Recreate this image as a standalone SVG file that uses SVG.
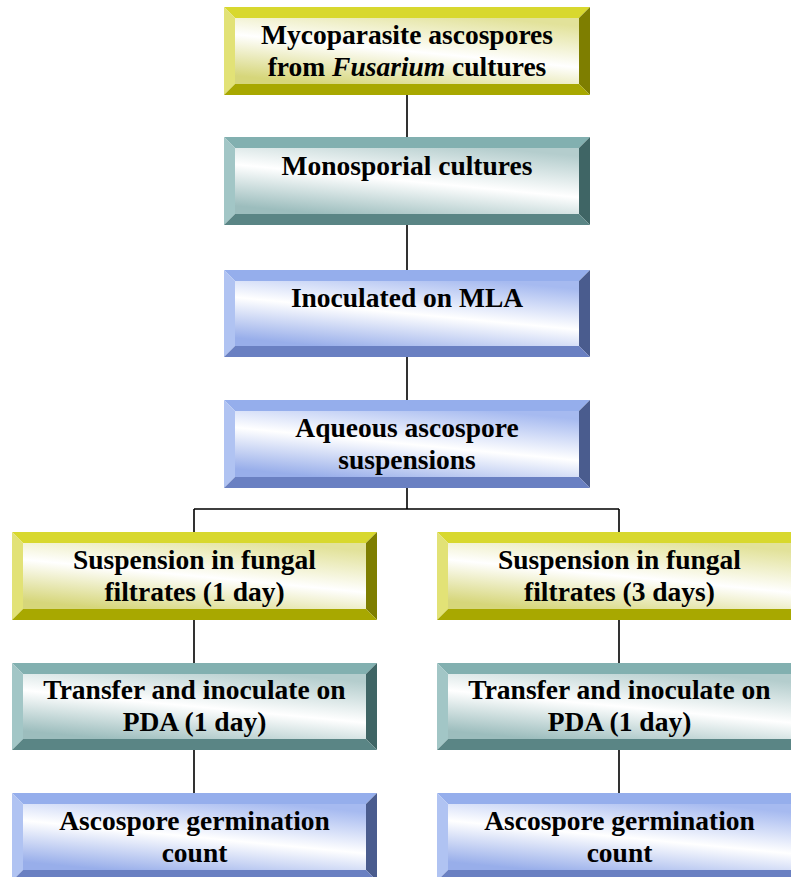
<svg xmlns="http://www.w3.org/2000/svg" width="791" height="877" viewBox="0 0 791 877">
<defs>
<linearGradient id="gY" x1="0.25" y1="1" x2="0.75" y2="0">
<stop offset="0" stop-color="#D6D67A"/><stop offset="0.5" stop-color="#FFFFFF"/><stop offset="1" stop-color="#E2E29A"/>
</linearGradient>
<linearGradient id="gT" x1="0.25" y1="1" x2="0.75" y2="0">
<stop offset="0" stop-color="#9CBDBD"/><stop offset="0.5" stop-color="#FFFFFF"/><stop offset="1" stop-color="#B4CDCD"/>
</linearGradient>
<linearGradient id="gB" x1="0.25" y1="1" x2="0.75" y2="0">
<stop offset="0" stop-color="#98AEEA"/><stop offset="0.5" stop-color="#FFFFFF"/><stop offset="1" stop-color="#A6BAF0"/>
</linearGradient>
</defs>
<style>
.y .t{fill:#D8D82E}.y .l{fill:#E2E276}.y .r{fill:#7E7E00}.y .b{fill:#A8A800}.y .f{fill:url(#gY)}
.te .t{fill:#82B0B0}.te .l{fill:#A2C6C6}.te .r{fill:#3F6565}.te .b{fill:#5A8585}.te .f{fill:url(#gT)}
.bl .t{fill:#95AEEC}.bl .l{fill:#B0C3F2}.bl .r{fill:#4A5C8E}.bl .b{fill:#6A80C2}.bl .f{fill:url(#gB)}
text{font-family:"Liberation Serif","Times New Roman",serif;font-weight:bold;font-size:27.5px;fill:#000;text-anchor:middle}
.c{stroke:#000;stroke-width:1.6;fill:none}
</style>
<g id="connectors">
<path class="c" d="M407 95V137M407 225V270M407 357V400M407 488V509M194 509H619M194 509V532M619 509V532M194 620V663M194 750V793M619 620V663M619 750V793"/>
</g>
<g id="n1" class="y">
<polygon class="t" points="224,7 590,7 579,18 235,18"/>
<polygon class="l" points="224,7 235,18 235,84 224,95"/>
<polygon class="r" points="590,7 590,95 579,84 579,18"/>
<polygon class="b" points="224,95 235,84 579,84 590,95"/>
<rect class="f" x="235" y="18" width="344" height="66"/>
<text x="407" y="44">Mycoparasite ascospores</text>
<text x="407" y="76">from <tspan font-style="italic">Fusarium</tspan> cultures</text>
</g>
<g id="n2" class="te">
<polygon class="t" points="224,137 590,137 579,148 235,148"/>
<polygon class="l" points="224,137 235,148 235,214 224,225"/>
<polygon class="r" points="590,137 590,225 579,214 579,148"/>
<polygon class="b" points="224,225 235,214 579,214 590,225"/>
<rect class="f" x="235" y="148" width="344" height="66"/>
<text x="407" y="175">Monosporial cultures</text>
</g>
<g id="n3" class="bl">
<polygon class="t" points="224,270 590,270 579,281 235,281"/>
<polygon class="l" points="224,270 235,281 235,346 224,357"/>
<polygon class="r" points="590,270 590,357 579,346 579,281"/>
<polygon class="b" points="224,357 235,346 579,346 590,357"/>
<rect class="f" x="235" y="281" width="344" height="65"/>
<text x="407" y="307">Inoculated on MLA</text>
</g>
<g id="n4" class="bl">
<polygon class="t" points="224,400 590,400 579,411 235,411"/>
<polygon class="l" points="224,400 235,411 235,477 224,488"/>
<polygon class="r" points="590,400 590,488 579,477 579,411"/>
<polygon class="b" points="224,488 235,477 579,477 590,488"/>
<rect class="f" x="235" y="411" width="344" height="66"/>
<text x="407" y="437">Aqueous ascospore</text>
<text x="407" y="469">suspensions</text>
</g>
<g id="n5a" class="y">
<polygon class="t" points="12,532 377,532 366,543 23,543"/>
<polygon class="l" points="12,532 23,543 23,609 12,620"/>
<polygon class="r" points="377,532 377,620 366,609 366,543"/>
<polygon class="b" points="12,620 23,609 366,609 377,620"/>
<rect class="f" x="23" y="543" width="343" height="66"/>
<text x="194.5" y="569">Suspension in fungal</text>
<text x="194.5" y="601">filtrates (1 day)</text>
</g>
<g id="n5b" class="y">
<polygon class="t" points="437,532 802,532 791,543 448,543"/>
<polygon class="l" points="437,532 448,543 448,609 437,620"/>
<polygon class="r" points="802,532 802,620 791,609 791,543"/>
<polygon class="b" points="437,620 448,609 791,609 802,620"/>
<rect class="f" x="448" y="543" width="343" height="66"/>
<text x="619.5" y="569">Suspension in fungal</text>
<text x="619.5" y="601">filtrates (3 days)</text>
</g>
<g id="n6a" class="te">
<polygon class="t" points="12,663 377,663 366,674 23,674"/>
<polygon class="l" points="12,663 23,674 23,739 12,750"/>
<polygon class="r" points="377,663 377,750 366,739 366,674"/>
<polygon class="b" points="12,750 23,739 366,739 377,750"/>
<rect class="f" x="23" y="674" width="343" height="65"/>
<text x="194.5" y="699">Transfer and inoculate on</text>
<text x="194.5" y="731">PDA (1 day)</text>
</g>
<g id="n6b" class="te">
<polygon class="t" points="437,663 802,663 791,674 448,674"/>
<polygon class="l" points="437,663 448,674 448,739 437,750"/>
<polygon class="r" points="802,663 802,750 791,739 791,674"/>
<polygon class="b" points="437,750 448,739 791,739 802,750"/>
<rect class="f" x="448" y="674" width="343" height="65"/>
<text x="619.5" y="699">Transfer and inoculate on</text>
<text x="619.5" y="731">PDA (1 day)</text>
</g>
<g id="n7a" class="bl">
<polygon class="t" points="12,793 377,793 366,804 23,804"/>
<polygon class="l" points="12,793 23,804 23,870 12,881"/>
<polygon class="r" points="377,793 377,881 366,870 366,804"/>
<polygon class="b" points="12,881 23,870 366,870 377,881"/>
<rect class="f" x="23" y="804" width="343" height="66"/>
<text x="194.5" y="830">Ascospore germination</text>
<text x="194.5" y="862">count</text>
</g>
<g id="n7b" class="bl">
<polygon class="t" points="437,793 802,793 791,804 448,804"/>
<polygon class="l" points="437,793 448,804 448,870 437,881"/>
<polygon class="r" points="802,793 802,881 791,870 791,804"/>
<polygon class="b" points="437,881 448,870 791,870 802,881"/>
<rect class="f" x="448" y="804" width="343" height="66"/>
<text x="619.5" y="830">Ascospore germination</text>
<text x="619.5" y="862">count</text>
</g>
</svg>
